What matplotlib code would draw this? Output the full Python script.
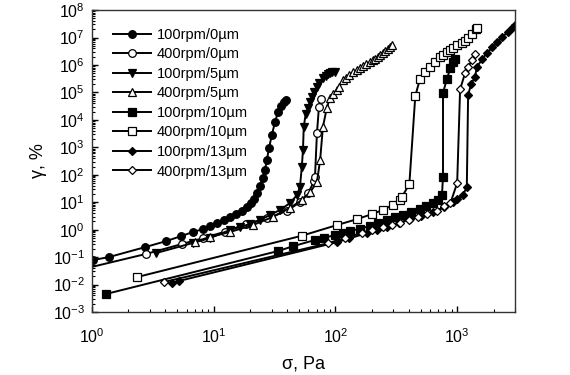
import matplotlib
matplotlib.use("Agg")
import matplotlib.pyplot as plt
from matplotlib.ticker import LogLocator, NullFormatter

plt.rcParams["font.family"] = ["Liberation Sans", "DejaVu Sans"]
plt.rcParams["mathtext.fontset"] = "custom"
plt.rcParams["mathtext.rm"] = "Liberation Sans"
plt.rcParams["mathtext.it"] = "Liberation Sans:italic"

labels = ["100rpm/0\u00b5m", "400rpm/0\u00b5m", "100rpm/5\u00b5m", "400rpm/5\u00b5m",
          "100rpm/10\u00b5m", "400rpm/10\u00b5m", "100rpm/13\u00b5m", "400rpm/13\u00b5m"]

# stress (Pa) and strain (%)
s_100_0 = [1.02, 1.38, 2.73, 4.06, 5.4, 6.76, 8.2, 9.3, 10.6, 12.2, 13.6, 15.3, 17.1, 18.8,
           20.3, 21.4, 22.7, 24, 25.4, 26.4, 27.4, 28.5, 30.1, 31.9, 33.8, 35.7, 37.8, 39.3]
g_100_0 = [0.078, 0.10, 0.23, 0.38, 0.58, 0.82, 1.05, 1.35, 1.7, 2.2, 2.9, 3.7, 4.8, 6.7,
           9.3, 13, 21, 39, 76, 149, 345, 940, 2800, 8300, 1.9e4, 3.2e4, 4.5e4, 5.3e4]

s_400_0 = [0.7, 2.78, 5.5, 8.2, 12.5, 18.4, 27.5, 40, 51, 60, 67, 68, 70.6, 73.3, 75.7]
g_400_0 = [0.03, 0.13, 0.30, 0.49, 0.85, 1.6, 2.6, 4.8, 10, 22, 60, 83, 3300, 3.0e4, 6.0e4]

s_100_5 = [3.36, 6.8, 9.3, 13.6, 16.4, 19.9, 24, 29, 35, 42.4, 48.3, 51.2, 53, 54.2,
           55, 57, 59.6, 62, 64, 67, 70.6, 74, 79, 83, 87, 91, 94, 99]
g_100_5 = [0.14, 0.33, 0.49, 0.97, 1.25, 1.6, 2.24, 3.4, 5.2, 9.3, 18, 36, 190, 800,
           5.5e3, 1.6e4, 2.7e4, 4.6e4, 6.8e4, 1.05e5, 1.55e5, 2.3e5, 3.3e5, 4.0e5, 4.6e5,
           5.1e5, 5.4e5, 5.6e5]

s_400_5 = [7.0, 9.3, 13.6, 21, 30.6, 42.4, 53, 62, 70.6, 75, 79, 85, 90, 95, 103, 108, 115,
           122, 130, 140, 150, 160, 170, 180, 192, 202, 212, 222, 232, 244, 255, 268, 280, 292]
g_400_5 = [0.36, 0.54, 0.82, 1.47, 2.9, 6.2, 12, 23, 54, 350, 5500, 2.7e4, 6.2e4, 9e4, 1.2e5,
           1.6e5, 2.8e5, 3.5e5, 4.4e5, 5.4e5, 6.5e5, 8e5, 9.5e5, 1.1e6, 1.26e6, 1.5e6, 1.7e6,
           2.0e6, 2.3e6, 2.8e6, 3.3e6, 3.9e6, 4.5e6, 5.3e6]

s_100_10 = [1.3, 33.8, 45, 68, 80, 99, 115, 132, 160, 192, 225, 265, 310, 360, 420, 495,
            560, 635, 700, 750, 765, 765, 823, 880, 920, 961]
g_100_10 = [0.0045, 0.166, 0.25, 0.42, 0.5, 0.63, 0.75, 0.89, 1.1, 1.35, 1.7, 2.24, 2.8,
            3.4, 4.3, 5.6, 7, 9.3, 12, 18, 83, 9.5e4, 3.1e5, 7.8e5, 1.26e6, 1.6e6]

s_400_10 = [2.34, 53, 103, 150, 200, 245, 297, 338, 352, 405, 453, 495, 545, 598, 655,
            720, 770, 823, 870, 920, 1000, 1090, 1160, 1230, 1320, 1420, 1460]
g_400_10 = [0.0186, 0.6, 1.47, 2.4, 3.7, 5.2, 8, 12, 15.6, 46, 7.4e4, 3.1e5, 5.5e5, 8.3e5,
            1.26e6, 1.9e6, 2.4e6, 3.0e6, 3.6e6, 4.2e6, 5.2e6, 6.3e6, 7.8e6, 9.6e6, 1.4e7,
            2.0e7, 2.2e7]

s_100_13 = [4.6, 5.2, 103, 130, 183, 220, 265, 330, 410, 500, 635, 780, 920, 1000, 1110,
            1200, 1230, 1300, 1400, 1450, 1600, 1750, 1950, 2140, 2350, 2600, 2800, 2990]
g_100_13 = [0.0113, 0.0135, 0.35, 0.48, 0.76, 1.0, 1.24, 1.8, 2.4, 3.2, 4.3, 6.5, 10, 13,
            18, 35, 8e4, 2.0e5, 3.6e5, 8.3e5, 1.6e6, 2.7e6, 4.4e6, 6.7e6, 1.05e7, 1.6e7,
            2.2e7, 2.8e7]

s_400_13 = [3.9, 87, 120, 165, 200, 245, 290, 340, 400, 475, 570, 680, 780, 880, 1000,
            1057, 1160, 1230, 1320, 1400]
g_400_13 = [0.0123, 0.32, 0.5, 0.76, 1.0, 1.24, 1.5, 1.74, 2.3, 2.9, 3.7, 4.8, 7, 9.3, 50,
            1.3e5, 5.0e5, 8.3e5, 1.5e6, 2.5e6]

series = [(s_100_0, g_100_0, "o", "k"), (s_400_0, g_400_0, "o", "w"),
          (s_100_5, g_100_5, "v", "k"), (s_400_5, g_400_5, "^", "w"),
          (s_100_10, g_100_10, "s", "k"), (s_400_10, g_400_10, "s", "w"),
          (s_100_13, g_100_13, "D", "k"), (s_400_13, g_400_13, "D", "w")]

fig = plt.figure(figsize=(5.7, 3.75), dpi=100)
ax = fig.add_axes([0.161, 0.168, 0.743, 0.805])

for (s, g, m, fc), lab in zip(series, labels):
    ms = 4.5 if m == "D" else 5.5
    ax.plot(s, g, color="k", lw=1.4, marker=m, ms=ms, mfc=fc, mec="k", mew=0.9, label=lab)

ax.set_xscale("log")
ax.set_yscale("log")
ax.set_xlim(1, 3000)
ax.set_ylim(1e-3, 1e8)

ax.yaxis.set_major_locator(LogLocator(base=10, numticks=20))
ax.yaxis.set_minor_locator(LogLocator(base=10, subs=range(2, 10), numticks=200))
ax.yaxis.set_minor_formatter(NullFormatter())
ax.xaxis.set_minor_formatter(NullFormatter())
ax.tick_params(which="both", direction="in", top=False, right=False, labelsize=11.5)
ax.tick_params(which="major", length=4, width=1)
ax.tick_params(axis="x", which="major", pad=11)
ax.tick_params(axis="y", which="major", pad=5)
ax.tick_params(which="minor", length=2.5, width=0.8)
for sp in ax.spines.values():
    sp.set_color("#333333")
    sp.set_linewidth(1)

ax.set_xlabel("\u03c3, Pa", fontsize=13, labelpad=7)
ax.set_ylabel("\u03b3, %", fontsize=13, labelpad=4)

ax.legend(loc="upper left", bbox_to_anchor=(0.02, 0.985), frameon=False, fontsize=10.5,
          numpoints=1, handlelength=2.6, labelspacing=0.38, handletextpad=0.4)

fig.savefig("out.png", dpi=100)
